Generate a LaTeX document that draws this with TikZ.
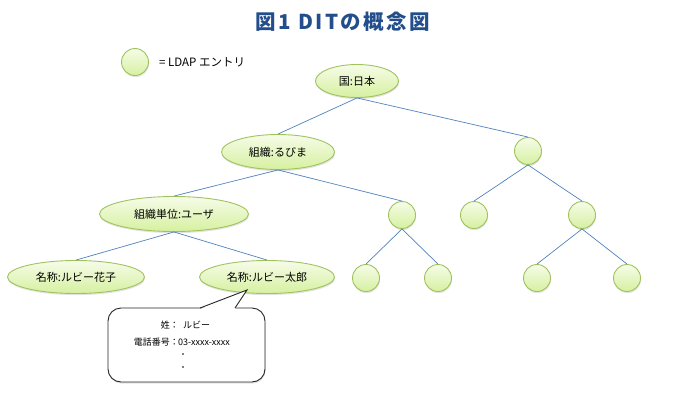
\documentclass[tikz,border=0pt]{standalone}
\usepackage{fontspec}
\setmainfont{Noto Sans CJK JP}
\newfontfamily\titlefont[LetterSpace=12]{Noto Sans CJK JP}
\usetikzlibrary{shapes.geometric,shadows}
\definecolor{titleblue}{RGB}{35,78,140}
\definecolor{edgeblue}{RGB}{79,129,189}
\definecolor{nodeborder}{RGB}{160,195,95}
\definecolor{nodetop}{RGB}{246,252,232}
\definecolor{nodebot}{RGB}{214,240,160}
\tikzset{
  entry/.style={ellipse, draw=nodeborder, line width=0.9pt, top color=nodetop, bottom color=nodebot,
    inner sep=0pt, font=\fontsize{11}{12}\selectfont,
    drop shadow={shadow xshift=0.5pt, shadow yshift=-1.6pt, opacity=0.22}},
  leaf/.style={entry, circle, minimum size=27pt},
  link/.style={draw=edgeblue, line width=0.7pt},
  calltext/.style={inner sep=0pt, font=\fontsize{9}{10}\selectfont}
}
\begin{document}
\begin{tikzpicture}[x=1pt,y=-1pt]
\useasboundingbox (0,0) rectangle (699,402);
\node[font=\titlefont\fontsize{20.5}{23}\selectfont\bfseries, text=titleblue] (title) at (343,22) {図1 DITの概念図};
% legend
\node[leaf] (legend) at (135,62) {};
\node[anchor=west, inner sep=0pt, font=\fontsize{11.5}{13}\selectfont] (legendtext) at (159,62) {= LDAP エントリ};
% tree nodes
\node[entry, minimum width=83pt, minimum height=33pt] (japan) at (357,81) {国:日本};
\node[entry, minimum width=113pt, minimum height=35pt] (org) at (278,152) {組織:るびま};
\node[leaf] (c1) at (528,151) {};
\node[entry, minimum width=149pt, minimum height=35pt] (ou) at (174,214) {組織単位:ユーザ};
\node[leaf] (c2) at (402,215) {};
\node[leaf] (c3) at (474,215) {};
\node[leaf] (c4) at (582,215) {};
\node[entry, minimum width=137pt, minimum height=33pt] (hanako) at (76,277) {名称:ルビー花子};
\node[entry, minimum width=135pt, minimum height=33pt] (taro) at (267,277) {名称:ルビー太郎};
\node[leaf] (c5) at (366,278) {};
\node[leaf] (c6) at (438,278) {};
\node[leaf] (c7) at (537,278) {};
\node[leaf] (c8) at (627,278) {};
% links
\draw[link] (japan.south) -- (org.north);
\draw[link] (japan.south) -- (c1.north);
\draw[link] (org.south) -- (ou.north);
\draw[link] (org.south) -- (c2.north);
\draw[link] (ou.south) -- (hanako.north);
\draw[link] (ou.south) -- (taro.north);
\draw[link] (c2.south) -- (c5.north);
\draw[link] (c2.south) -- (c6.north);
\draw[link] (c1.south) -- (c3.north);
\draw[link] (c1.south) -- (c4.north);
\draw[link] (c4.south) -- (c7.north);
\draw[link] (c4.south) -- (c8.north);
% callout
\node[draw=black!85, line width=0.9pt, fill=white, rounded corners=13pt, minimum width=157pt, minimum height=74pt,
  drop shadow={shadow xshift=0.5pt, shadow yshift=-1.6pt, opacity=0.22}] (callout) at (186.5,345) {};
\coordinate (tip) at (247,290);
\coordinate (pa) at (200,308);
\coordinate (pb) at (235,308);
\fill[white] (200,309.2) -- (tip) -- (235,309.2) -- cycle;
\draw[black!85, line width=0.9pt, line join=miter] (pa) -- (tip) -- (pb);
\node[calltext, anchor=east] (surname) at (179,325) {姓：};
\node[calltext, anchor=west] (surnameval) at (183,325) {ルビー};
\node[calltext, anchor=east] (phone) at (179,342) {電話番号：};
\node[calltext, anchor=west] (phoneval) at (178,342) {03-xxxx-xxxx};
\fill (183,354) circle (0.9pt);
\fill (183,367) circle (0.9pt);
\end{tikzpicture}
\end{document}
